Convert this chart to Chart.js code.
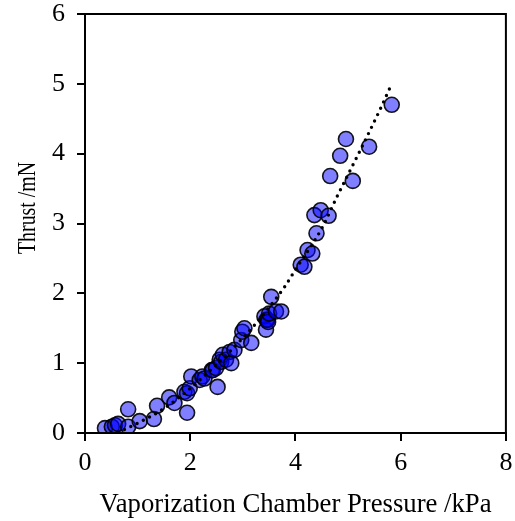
<!DOCTYPE html>
<html>
<head>
<meta charset="utf-8">
<script src="https://cdn.jsdelivr.net/npm/chart.js@4"></script>
<style>
body{margin:0;background:#fff;}
</style>
</head>
<body>
<canvas id="thrustChart" width="515" height="521"></canvas>
<script>
let pressure = [0.38,0.51,0.57,0.63,0.82,0.82,1.04,1.31,1.37,1.60,1.70,1.94,1.89,1.94,1.99,2.02,2.18,2.23,2.27,2.41,2.43,2.49,2.52,2.56,2.59,2.62,2.68,2.75,2.78,2.84,2.97,2.99,3.03,3.16,3.41,3.44,3.45,3.47,3.48,3.50,3.54,3.63,3.73,4.10,4.17,4.23,4.32,4.40,4.36,4.48,4.63,4.66,4.85,4.96,5.09,5.40,5.83];
let thrust   = [0.07,0.09,0.11,0.13,0.09,0.34,0.17,0.20,0.39,0.51,0.43,0.29,0.59,0.57,0.64,0.81,0.76,0.81,0.78,0.90,0.90,0.93,0.66,1.05,1.02,1.12,1.05,1.16,1.00,1.19,1.33,1.45,1.50,1.29,1.67,1.48,1.62,1.62,1.59,1.71,1.95,1.74,1.74,2.41,2.38,2.62,2.57,2.86,3.12,3.19,3.11,3.68,3.97,4.21,3.61,4.10,4.70];

// trend line
let trendX = [0.75,1,1.5,2,2.5,3,3.25,3.5,3.8,4,4.5,4.8,5.2,5.6,5.8];
let trendY = [0.05,0.14,0.35,0.64,0.98,1.36,1.57,1.80,2.10,2.34,2.93,3.40,4.00,4.62,4.95];

let xTicks = [0,2,4,6,8];
let yTicks = [0,1,2,3,4,5,6];

let font = "'Liberation Serif','Times New Roman',serif";

let framePlugin = {
id:'frame',
afterDraw(chart){
let a = chart.chartArea;
let ctx = chart.ctx;
ctx.save();
ctx.strokeStyle = '#000';
ctx.lineWidth = 2;
ctx.strokeRect(a.left, a.top, a.right - a.left, a.bottom - a.top);
// y axis title, squeezed along its length like the original
ctx.font = "26px " + font;
let w = ctx.measureText('Thrust /mN').width;
ctx.translate(28, 208);
ctx.rotate(-Math.PI/2);
ctx.scale(92 / w, 1);
ctx.fillStyle = '#000';
ctx.textAlign = 'center';
ctx.textBaseline = 'middle';
ctx.fillText('Thrust /mN', 0, 0);
ctx.restore();
}
};

let points = pressure.map((p,i) => ({x:p, y:thrust[i]}));
let trend = trendX.map((p,i) => ({x:p, y:trendY[i]}));

new Chart(document.getElementById('thrustChart'),{
type:'scatter',
data:{
datasets:[{
label:'Trend',
type:'line',
data:trend,
showLine:true,
pointRadius:0,
borderColor:'#000',
borderWidth:3.4,
borderDash:[0,7],
borderCapStyle:'round',
cubicInterpolationMode:'monotone',
fill:false,
order:0
},{
label:'Thrust',
data:points,
pointRadius:7.5,
pointHoverRadius:7.5,
backgroundColor:'rgba(0,0,255,0.5)',
borderColor:'rgba(0,0,0,0.9)',
borderWidth:1.6,
order:1
}]
},
options:{
responsive:false,
animation:false,
layout:{padding:{top:14,right:8,left:0,bottom:0}},
plugins:{
legend:{display:false},
tooltip:{enabled:false}
},
scales:{
x:{
type:'linear',
min:0,
max:8,
afterBuildTicks(axis){ axis.ticks = xTicks.map(v => ({value:v})); },
afterFit(axis){ axis.height = 88; axis.paddingLeft = 0; axis.paddingRight = 0; },
grid:{drawOnChartArea:false, drawTicks:true, tickLength:8, color:'#000', lineWidth:2},
border:{display:true, color:'#000', width:2},
ticks:{color:'#000', padding:7, font:{family:font, size:26}, maxRotation:0},
title:{display:true, text:'Vaporization Chamber Pressure /kPa', color:'#000', font:{family:font, size:26.7}, padding:{top:0,bottom:0}}
},
y:{
type:'linear',
min:0,
max:6,
afterBuildTicks(axis){ axis.ticks = yTicks.map(v => ({value:v})); },
afterFit(axis){ axis.width = 85; axis.paddingTop = 0; axis.paddingBottom = 0; },
grid:{drawOnChartArea:false, drawTicks:true, tickLength:8, color:'#000', lineWidth:2},
border:{display:true, color:'#000', width:2},
ticks:{color:'#000', padding:12, font:{family:font, size:26}}
}
}
},
plugins:[framePlugin]
});
</script>
</body>
</html>
